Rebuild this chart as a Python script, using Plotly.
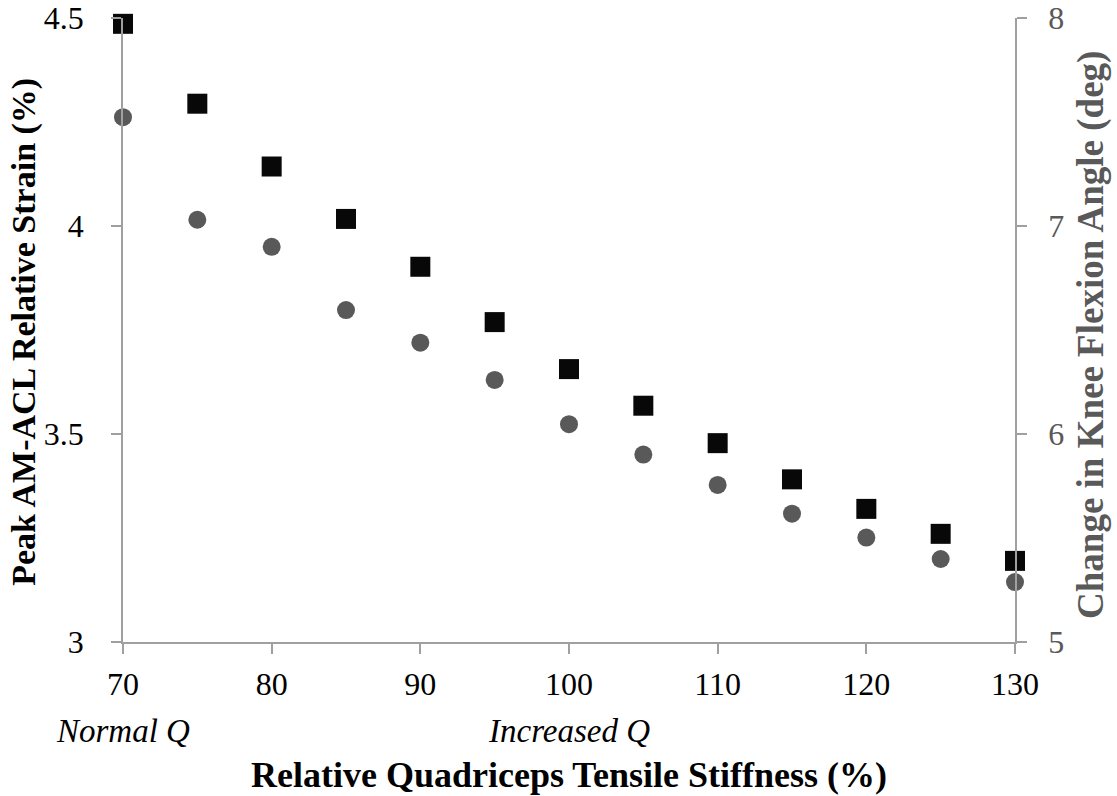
import plotly.graph_objects as go

# Relative quadriceps tensile stiffness (%)
stiffness = [70, 75, 80, 85, 90, 95, 100, 105, 110, 115, 120, 125, 130]

# Peak AM-ACL relative strain (%) - left axis
acl_strain = [4.486, 4.294, 4.143, 4.017, 3.902, 3.769, 3.656, 3.568,
              3.478, 3.391, 3.320, 3.260, 3.195]

# Change in knee flexion angle (deg) - right axis
knee_flexion = [7.523, 7.030, 6.900, 6.596, 6.439, 6.260, 6.047, 5.901,
                5.755, 5.617, 5.502, 5.399, 5.288]

FONT = "Liberation Serif"
AXIS_GREY = "#a0a0a0"
DARK_GREY = "#595959"
TICK_SIZE = 32

fig = go.Figure()

fig.add_trace(go.Scatter(
    x=stiffness, y=acl_strain, mode="markers",
    marker=dict(symbol="square", size=20, color="#080808"),
    cliponaxis=False, showlegend=False, yaxis="y",
))

fig.add_trace(go.Scatter(
    x=stiffness, y=knee_flexion, mode="markers",
    marker=dict(symbol="circle", size=18, color=DARK_GREY),
    cliponaxis=False, showlegend=False, yaxis="y2",
))

axis_common = dict(
    showgrid=False, zeroline=False, automargin=False,
    showline=True, linecolor=AXIS_GREY, linewidth=1.5,
    ticks="outside", ticklen=10, tickcolor=AXIS_GREY, tickwidth=1.5,
)

fig.update_layout(
    width=1117, height=796,
    margin=dict(l=123, r=102, t=18, b=154),
    plot_bgcolor="white", paper_bgcolor="white",
    font=dict(family=FONT, size=TICK_SIZE, color="black"),
    xaxis=dict(
        range=[70, 130], tickvals=[70, 80, 90, 100, 110, 120, 130],
        tickfont=dict(family=FONT, size=TICK_SIZE, color="black"),
        ticklabelstandoff=3, **axis_common,
    ),
    yaxis=dict(
        range=[3, 4.5], tickvals=[3, 3.5, 4, 4.5],
        tickfont=dict(family=FONT, size=TICK_SIZE, color="black"),
        ticklabelstandoff=21, **axis_common,
    ),
    yaxis2=dict(
        range=[5, 8], tickvals=[5, 6, 7, 8],
        overlaying="y", side="right", anchor="x",
        tickfont=dict(family=FONT, size=TICK_SIZE, color=DARK_GREY),
        ticklabelstandoff=15, **axis_common,
    ),
    annotations=[
        # axis titles
        dict(text="<b>Relative Quadriceps Tensile Stiffness (%)</b>",
             x=0.5, xref="paper", y=-0.213, yref="paper",
             xanchor="center", yanchor="middle", showarrow=False,
             font=dict(family=FONT, size=36, color="black")),
        dict(text="<b>Peak AM-ACL Relative Strain (%)</b>",
             x=-0.111, xref="paper", y=0.497, yref="paper", textangle=-90,
             xanchor="center", yanchor="middle", showarrow=False,
             font=dict(family=FONT, size=34, color="black")),
        dict(text="<b>Change in Knee Flexion Angle (deg)</b>",
             x=1.0852, xref="paper", y=0.492, yref="paper", textangle=-90,
             xanchor="center", yanchor="middle", showarrow=False,
             font=dict(family=FONT, size=37, color=DARK_GREY)),
        # region labels under the x axis
        dict(text="<i>Normal Q</i>", x=70, xref="x", y=-0.143, yref="paper",
             xanchor="center", yanchor="middle", showarrow=False,
             font=dict(family=FONT, size=33, color="black")),
        dict(text="<i>Increased Q</i>", x=100, xref="x", y=-0.143, yref="paper",
             xanchor="center", yanchor="middle", showarrow=False,
             font=dict(family=FONT, size=33, color="black")),
    ],
)

fig.write_html("out.html")
